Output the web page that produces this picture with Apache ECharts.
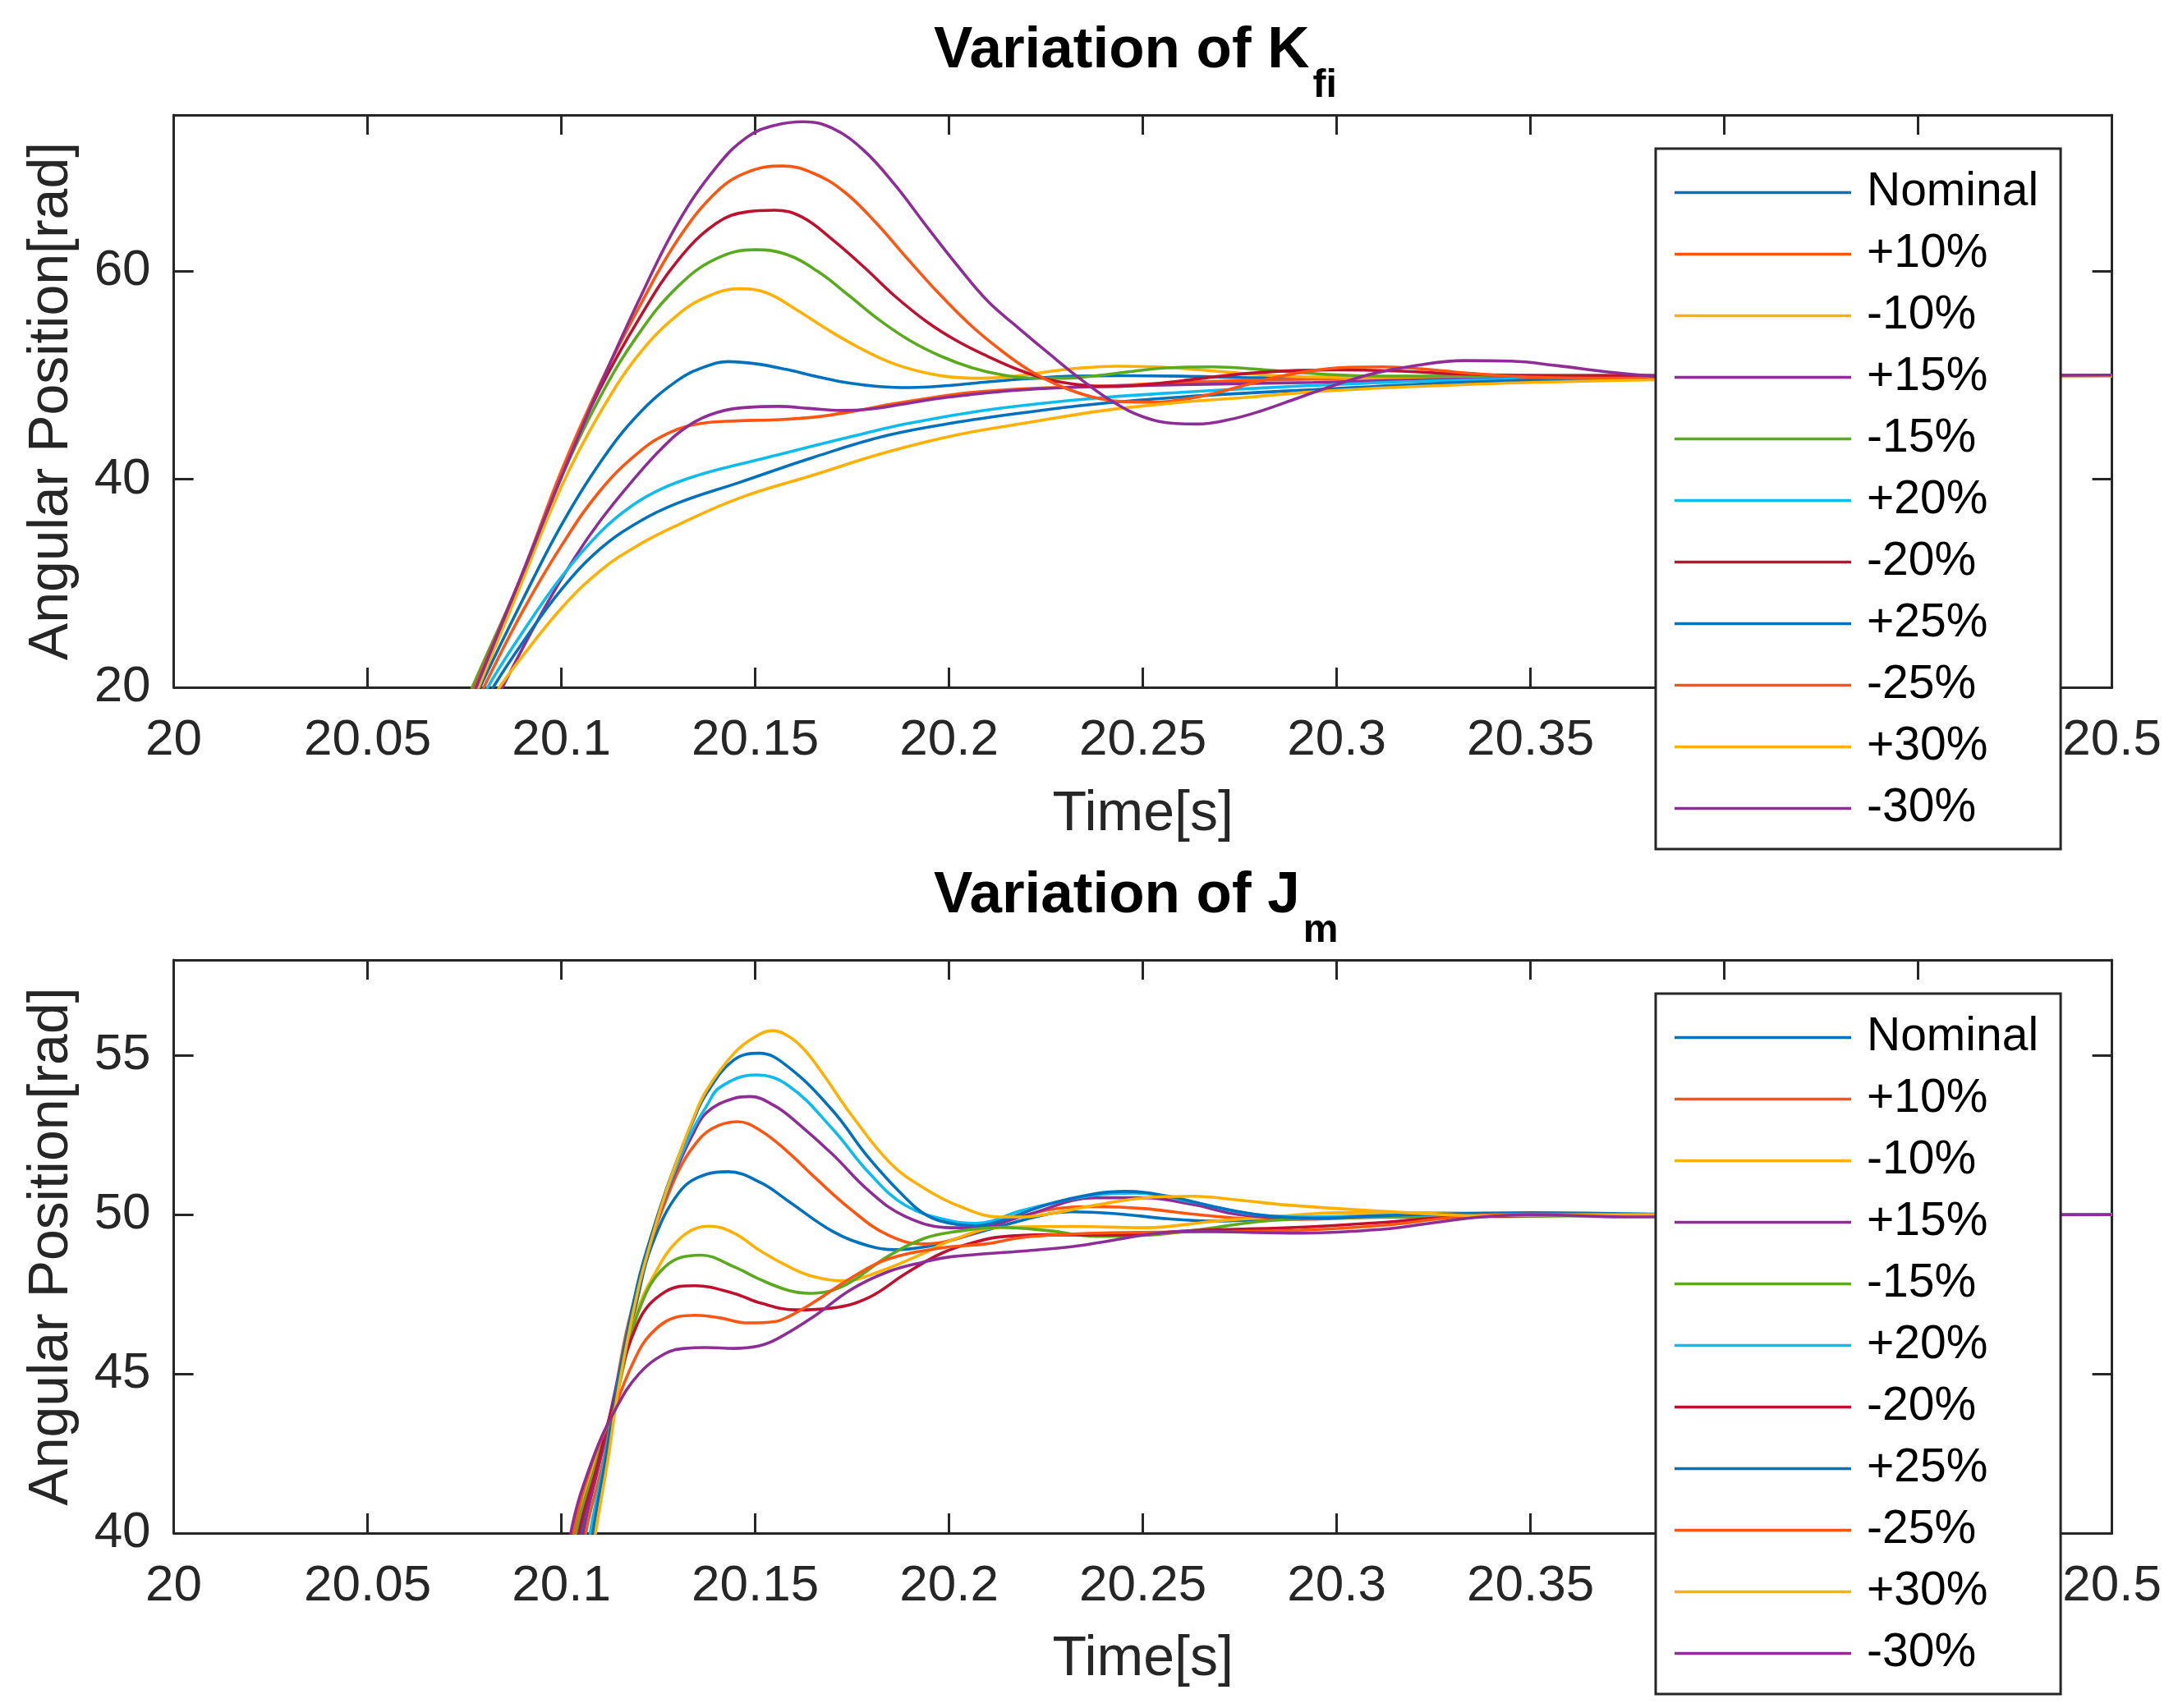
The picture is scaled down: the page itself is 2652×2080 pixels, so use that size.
<!DOCTYPE html>
<html>
<head>
<meta charset="utf-8">
<script src="https://cdn.jsdelivr.net/npm/echarts@6/dist/echarts.min.js"></script>
<style>
html,body{margin:0;padding:0;background:#fff;}
#chart{width:2652px;height:2080px;}
</style>
</head>
<body>
<div id="chart"></div>
<script>
// ---------- data ----------
const seriesNames = ['Nominal','+10%','-10%','+15%','-15%','+20%','-20%','+25%','-25%','+30%','-30%'];
const xTicks = [20, 20.05, 20.1, 20.15, 20.2, 20.25, 20.3, 20.35, 20.4, 20.45, 20.5];
const kfiYTicks = [20, 40, 60];
const jmYTicks = [40, 45, 50, 55];

// Variation of K_fi  ([time s, angular position rad])
const kfiNominal = [[20.075,16.6],[20.079,20],[20.09,28.4],[20.1,35.6],[20.11,41.6],[20.12,46.3],[20.13,49.5],[20.137,50.8],[20.143,51.3],[20.15,51.1],[20.158,50.55],[20.166,49.85],[20.174,49.25],[20.182,48.9],[20.19,48.8],[20.2,49.0],[20.21,49.35],[20.22,49.65],[20.232,49.9],[20.245,49.95],[20.26,49.9],[20.28,49.75],[20.3,49.8],[20.35,49.9],[20.4,49.95],[20.5,50]];
const kfiP10 = [[20.076,16.6],[20.080,20],[20.09,27.3],[20.1,33.6],[20.11,38.9],[20.12,42.6],[20.128,44.5],[20.136,45.35],[20.145,45.6],[20.155,45.7],[20.165,45.95],[20.175,46.5],[20.185,47.2],[20.195,47.8],[20.205,48.3],[20.22,48.7],[20.24,48.95],[20.26,49.3],[20.29,49.6],[20.33,49.8],[20.4,49.9],[20.5,50]];
const kfiM10 = [[20.0746,16.5],[20.0786,20],[20.09,30.3],[20.1,39.3],[20.11,46.4],[20.12,52.0],[20.13,55.8],[20.138,57.6],[20.146,58.3],[20.153,57.9],[20.161,56.2],[20.169,54.3],[20.177,52.6],[20.185,51.2],[20.193,50.3],[20.201,49.8],[20.209,49.7],[20.217,49.9],[20.225,50.3],[20.233,50.65],[20.243,50.85],[20.253,50.8],[20.265,50.5],[20.278,50.1],[20.29,49.85],[20.31,49.75],[20.35,49.8],[20.4,49.9],[20.5,50]];
const kfiP15 = [[20.081,16.8],[20.0848,20],[20.095,27.2],[20.1035,32.5],[20.11,36.0],[20.118,39.7],[20.126,43.0],[20.133,45.2],[20.14,46.4],[20.148,46.9],[20.156,47.0],[20.164,46.8],[20.172,46.6],[20.18,46.75],[20.188,47.2],[20.196,47.7],[20.205,48.1],[20.216,48.5],[20.23,48.8],[20.25,49.0],[20.27,49.15],[20.294,49.3],[20.33,49.6],[20.4,49.9],[20.5,50]];
const kfiM15 = [[20.073,16.4],[20.077,20],[20.09,30.9],[20.1,40.2],[20.11,47.9],[20.12,54.0],[20.13,58.5],[20.14,61.2],[20.15,62.05],[20.158,61.6],[20.166,60.0],[20.174,57.7],[20.182,55.3],[20.19,53.3],[20.198,51.8],[20.206,50.7],[20.214,50.0],[20.222,49.7],[20.23,49.7],[20.238,49.95],[20.246,50.3],[20.256,50.7],[20.268,50.8],[20.28,50.55],[20.292,50.2],[20.305,49.95],[20.32,49.9],[20.35,50.0],[20.5,50]];
const kfiP20 = [[20.077,16.8],[20.081,20],[20.09,25.3],[20.1,30.6],[20.11,34.9],[20.118,37.4],[20.126,39.1],[20.135,40.35],[20.146,41.45],[20.156,42.35],[20.166,43.3],[20.176,44.2],[20.186,45.1],[20.196,45.8],[20.208,46.55],[20.222,47.2],[20.24,47.85],[20.26,48.35],[20.28,48.75],[20.3,49.1],[20.325,49.45],[20.35,49.65],[20.4,49.85],[20.5,50]];
const kfiM20 = [[20.0737,16.4],[20.0777,20],[20.09,31.0],[20.1,40.6],[20.11,48.7],[20.12,55.4],[20.13,61.0],[20.14,64.6],[20.148,65.7],[20.155,65.85],[20.162,65.2],[20.17,63.0],[20.178,60.4],[20.186,57.6],[20.194,55.2],[20.202,53.3],[20.21,51.8],[20.218,50.5],[20.226,49.55],[20.234,49.05],[20.242,48.9],[20.25,49.05],[20.26,49.45],[20.27,49.9],[20.28,50.25],[20.29,50.45],[20.3,50.5],[20.315,50.4],[20.333,50.1],[20.36,49.9],[20.4,49.95],[20.5,50]];
const kfiP25 = [[20.078,17.0],[20.0824,20],[20.09,24.3],[20.1,29.4],[20.11,33.3],[20.12,35.9],[20.13,37.7],[20.146,39.7],[20.165,42.1],[20.184,44.2],[20.2026,45.5],[20.2215,46.5],[20.24,47.3],[20.26,47.9],[20.278,48.3],[20.294,48.6],[20.32,49.1],[20.35,49.5],[20.4,49.8],[20.5,50]];
const kfiM25 = [[20.0737,16.4],[20.0777,20],[20.09,31.0],[20.1,40.8],[20.11,49.2],[20.12,56.5],[20.13,63.0],[20.14,67.6],[20.148,69.5],[20.157,70.1],[20.165,69.4],[20.173,67.6],[20.181,64.7],[20.189,61.3],[20.197,58.0],[20.205,55.0],[20.213,52.5],[20.221,50.4],[20.229,48.9],[20.237,47.9],[20.245,47.45],[20.253,47.4],[20.261,47.7],[20.269,48.3],[20.277,49.1],[20.285,49.85],[20.294,50.45],[20.303,50.75],[20.312,50.8],[20.322,50.6],[20.335,50.15],[20.35,49.8],[20.37,49.7],[20.4,49.85],[20.5,50]];
const kfiP30 = [[20.080,17.8],[20.084,20],[20.09,23.0],[20.1,27.6],[20.11,31.2],[20.12,33.7],[20.13,35.6],[20.146,38.2],[20.165,40.4],[20.184,42.6],[20.2026,44.3],[20.2215,45.5],[20.24,46.6],[20.26,47.4],[20.278,47.9],[20.294,48.4],[20.32,48.9],[20.35,49.3],[20.4,49.65],[20.5,49.9]];
const kfiM30 = [[20.074,16.3],[20.078,20],[20.09,31.0],[20.1,40.2],[20.11,49.0],[20.12,57.2],[20.13,64.6],[20.14,70.0],[20.148,72.9],[20.155,74.0],[20.1625,74.35],[20.17,73.7],[20.178,71.6],[20.186,68.3],[20.194,64.4],[20.202,60.6],[20.21,57.1],[20.218,54.5],[20.226,52.0],[20.234,49.6],[20.242,47.5],[20.25,46.0],[20.2585,45.35],[20.264,45.3],[20.272,45.7],[20.28,46.5],[20.29,47.8],[20.3,49.1],[20.31,50.2],[20.32,50.9],[20.333,51.4],[20.345,51.35],[20.357,50.9],[20.37,50.3],[20.382,49.9],[20.4,49.65],[20.43,49.7],[20.46,49.9],[20.5,50]];

// Variation of J_m
const jmNominal = [[20.1009,36.5],[20.1049,40],[20.1095,42.1],[20.1145,44.5],[20.1197,47.4],[20.1232,49.0],[20.1303,50.69],[20.1374,51.27],[20.143,51.35],[20.1515,51.0],[20.1586,50.42],[20.1699,49.48],[20.1793,49.02],[20.186,48.9],[20.1954,49.02],[20.2007,49.2],[20.2131,49.63],[20.2255,50.02],[20.2317,50.09],[20.2441,50.02],[20.2566,49.87],[20.269,49.8],[20.2877,49.89],[20.3125,49.96],[20.35,50.0],[20.5,50]];
const jmP10 = [[20.1023,36.5],[20.1063,40],[20.111,42.4],[20.1162,46.0],[20.1197,47.74],[20.1232,49.2],[20.1268,50.4],[20.1303,51.4],[20.1338,52.1],[20.1388,52.7],[20.1455,52.92],[20.1515,52.63],[20.1586,51.95],[20.1651,51.2],[20.1746,50.17],[20.1841,49.37],[20.1935,49.08],[20.2007,49.2],[20.2131,49.72],[20.2255,50.15],[20.2379,50.25],[20.2504,50.19],[20.2628,50.02],[20.275,49.89],[20.2877,49.85],[20.3125,49.93],[20.35,50.0],[20.5,50]];
const jmM10 = [[20.0995,36.5],[20.1035,40],[20.109,42.3],[20.114,44.3],[20.1197,47.0],[20.1232,47.95],[20.1303,49.22],[20.1381,49.64],[20.1444,49.43],[20.1515,48.85],[20.1586,48.37],[20.1651,48.05],[20.1727,47.92],[20.1822,48.22],[20.1935,48.79],[20.2007,49.2],[20.2131,49.6],[20.2317,49.63],[20.2504,49.59],[20.269,49.8],[20.2877,49.97],[20.3001,50.06],[20.325,50.06],[20.35,50.0],[20.4,50],[20.5,50]];
const jmP15 = [[20.1016,36.5],[20.1056,40],[20.11,42.3],[20.1148,45.0],[20.1197,47.74],[20.1232,49.25],[20.1268,50.55],[20.1303,51.6],[20.1338,52.5],[20.1374,53.2],[20.1444,53.65],[20.1487,53.71],[20.155,53.42],[20.1604,52.93],[20.1699,51.9],[20.1793,50.75],[20.1888,49.94],[20.2007,49.59],[20.2069,49.59],[20.2193,49.97],[20.2379,50.53],[20.2504,50.53],[20.2628,50.32],[20.275,50.0],[20.29,49.9],[20.315,49.95],[20.35,50.0],[20.5,50]];
const jmM15 = [[20.0998,36.5],[20.1038,40],[20.109,42.2],[20.114,44.2],[20.1197,46.9],[20.1268,48.37],[20.136,48.73],[20.1444,48.37],[20.1515,47.95],[20.1586,47.62],[20.1637,47.53],[20.1727,47.76],[20.1841,48.68],[20.1935,49.25],[20.2007,49.45],[20.2131,49.6],[20.2255,49.5],[20.2379,49.32],[20.2504,49.35],[20.2628,49.5],[20.2815,49.8],[20.3,49.9],[20.35,49.95],[20.4,50],[20.5,50]];
const jmP20 = [[20.1034,36.5],[20.1074,40],[20.111,42.2],[20.1148,44.9],[20.1197,47.8],[20.1232,49.3],[20.1268,50.6],[20.1303,51.7],[20.1338,52.65],[20.1374,53.4],[20.1409,54.0],[20.1501,54.39],[20.1586,54.05],[20.1699,52.7],[20.1793,51.32],[20.1888,50.29],[20.2007,49.8],[20.2069,49.73],[20.2193,50.15],[20.2379,50.62],[20.2479,50.68],[20.2628,50.4],[20.278,50.02],[20.294,49.93],[20.3125,49.97],[20.35,50.0],[20.5,50]];
const jmM20 = [[20.1005,36.5],[20.1045,40],[20.109,42.0],[20.1127,43.75],[20.1197,46.6],[20.1268,47.58],[20.1345,47.77],[20.1444,47.53],[20.1515,47.22],[20.1604,47.01],[20.1699,47.07],[20.1793,47.4],[20.1888,48.15],[20.1983,48.8],[20.207,49.15],[20.2131,49.3],[20.2255,49.37],[20.2441,49.36],[20.2628,49.5],[20.2877,49.59],[20.3125,49.76],[20.325,49.89],[20.35,49.97],[20.4,50],[20.5,50]];
const jmP25 = [[20.1041,36.5],[20.1081,40],[20.1115,42.4],[20.1148,44.9],[20.1197,47.85],[20.1232,49.35],[20.1268,50.7],[20.1303,51.85],[20.1338,52.9],[20.1374,53.8],[20.1444,54.85],[20.1511,55.07],[20.1586,54.63],[20.1699,53.28],[20.1793,51.78],[20.1888,50.52],[20.1944,49.97],[20.2007,49.72],[20.2069,49.65],[20.2131,49.8],[20.2255,50.32],[20.2379,50.66],[20.2454,50.73],[20.2566,50.58],[20.2691,50.23],[20.2815,49.97],[20.294,49.89],[20.3125,49.97],[20.35,50.06],[20.4,50.0],[20.5,50]];
const jmM25 = [[20.0995,36.5],[20.1031,40],[20.1085,42.4],[20.1127,43.6],[20.1183,45.3],[20.1232,46.27],[20.1303,46.8],[20.1345,46.84],[20.1409,46.76],[20.148,46.6],[20.155,46.64],[20.1586,46.8],[20.1651,47.25],[20.1746,48.0],[20.1841,48.6],[20.1983,48.96],[20.2094,49.08],[20.2193,49.29],[20.2379,49.42],[20.2628,49.46],[20.2877,49.5],[20.3125,49.67],[20.3312,49.93],[20.35,50.02],[20.4,50.0],[20.5,50]];
const jmP30 = [[20.1048,36.5],[20.1088,40],[20.112,42.3],[20.1148,44.6],[20.1197,47.6],[20.1232,49.2],[20.1268,50.65],[20.1303,51.85],[20.1338,52.95],[20.1374,53.9],[20.1444,55.05],[20.1495,55.55],[20.1545,55.78],[20.1586,55.6],[20.1625,55.2],[20.167,54.5],[20.175,53.1],[20.185,51.6],[20.194,50.8],[20.203,50.25],[20.213,49.93],[20.2193,49.93],[20.2255,50.02],[20.2379,50.3],[20.2504,50.53],[20.2628,50.58],[20.2752,50.45],[20.2877,50.3],[20.3125,50.1],[20.3374,49.97],[20.382,50.0],[20.5,50]];
const jmM30 = [[20.0985,36.5],[20.1024,40],[20.108,42.3],[20.114,43.9],[20.12,45.0],[20.1268,45.64],[20.1317,45.8],[20.1374,45.83],[20.1444,45.8],[20.151,45.88],[20.1557,46.1],[20.1651,46.8],[20.1746,47.64],[20.1841,48.2],[20.193,48.5],[20.2007,48.68],[20.2193,48.86],[20.232,49.0],[20.2425,49.2],[20.2525,49.4],[20.2628,49.48],[20.2877,49.42],[20.3125,49.55],[20.325,49.75],[20.3374,49.93],[20.35,50.0],[20.3746,49.93],[20.42,49.98],[20.5,50]];

const kfiData = [kfiNominal,kfiP10,kfiM10,kfiP15,kfiM15,kfiP20,kfiM20,kfiP25,kfiM25,kfiP30,kfiM30];
const jmData = [jmNominal,jmP10,jmM10,jmP15,jmM15,jmP20,jmM20,jmP25,jmM25,jmP30,jmM30];

// ---------- styles ----------
const palette = ['#0072BD','#FF5511','#FFB000','#8E2D96','#5AAA1E','#0EBBEE','#C0102F','#0072BD','#FF5511','#FFB000','#8E2D96'];
const FONT = '"Liberation Sans", Arial, Helvetica, sans-serif';
const AX = '#262626';

const grids = [
  {left: 211.6, top: 140, width: 2360, height: 697},
  {left: 211.6, top: 1169, width: 2360, height: 698}
];
const yRanges = [
  {min: 20, max: 75, interval: 20, ticks: kfiYTicks},
  {min: 40, max: 58, interval: 5, ticks: jmYTicks}
];

function fmtX(v){
  const r = Math.round(v*100)/100;
  return xTicks.some(t => Math.abs(t - r) < 1e-9) ? String(r) : '';
}

const xAxes = [], yAxes = [];
grids.forEach((g, i) => {
  const common = {
    type: 'value', gridIndex: i, min: 20, max: 20.5, interval: 0.05,
    axisLine: {show: true, onZero: false, lineStyle: {color: AX, width: 3}},
    axisTick: {show: true, inside: true, length: 24, lineStyle: {color: AX, width: 3}},
    splitLine: {show: false}
  };
  xAxes.push(Object.assign({}, common, {
    position: 'bottom',
    axisLabel: {show: true, fontSize: 62, fontFamily: FONT, color: AX, margin: 34, formatter: fmtX}
  }));
  xAxes.push(Object.assign({}, common, {position: 'top', axisLabel: {show: false}}));
  const yr = yRanges[i];
  const ycommon = {
    type: 'value', gridIndex: i, min: yr.min, max: yr.max, interval: yr.interval,
    axisLine: {show: true, onZero: false, lineStyle: {color: AX, width: 3}},
    axisTick: {show: true, inside: true, length: 24, lineStyle: {color: AX, width: 3}},
    splitLine: {show: false}
  };
  yAxes.push(Object.assign({}, ycommon, {
    position: 'left',
    name: 'Angular Position[rad]', nameLocation: 'middle', nameGap: 114,
    nameTextStyle: {fontSize: 68, fontFamily: FONT, color: AX},
    axisLabel: {show: true, fontSize: 62, fontFamily: FONT, color: AX, margin: 28,
      formatter: v => yr.ticks.some(t => Math.abs(t - v) < 1e-9) ? String(v) : ''}
  }));
  yAxes.push(Object.assign({}, ycommon, {position: 'right', axisLabel: {show: false}}));
});

const series = [];
[kfiData, jmData].forEach((set, gi) => {
  set.forEach((d, k) => {
    series.push({
      type: 'line', name: seriesNames[k], data: d,
      xAxisIndex: gi*2, yAxisIndex: gi*2,
      showSymbol: false, symbol: 'none', smooth: 0.4, clip: true,
      color: palette[k],
      itemStyle: {color: palette[k]},
      lineStyle: {color: palette[k], width: 3.6},
      emphasis: {disabled: true},
      animation: false
    });
  });
});

function legendAt(top){
  return {
    orient: 'vertical', left: 2016, top: top,
    padding: [25, 27, 21, 23],
    itemWidth: 215, itemHeight: 3.5, itemGap: 18,
    icon: 'rect',
    backgroundColor: '#ffffff', borderColor: AX, borderWidth: 3,
    textStyle: {fontSize: 57, fontFamily: FONT, color: '#000', lineHeight: 56, padding: [0,0,0,14]},
    data: seriesNames,
    selectedMode: false
  };
}

function titleAt(main, sub, top){
  return {
    text: '{a|' + main + '}{b|' + sub + '}',
    left: 1137, top: top, padding: 0,
    textStyle: {
      rich: {
        a: {fontSize: 71, fontWeight: 'bold', fontFamily: FONT, color: '#000', lineHeight: 71, verticalAlign: 'top'},
        b: {fontSize: 48, fontWeight: 'bold', fontFamily: FONT, color: '#000', lineHeight: 48, verticalAlign: 'top', padding: [54, 0, 0, 4]}
      }
    }
  };
}

// x-axis titles, centred under each plot
function xName(centerY){
  return {
    type: 'text', x: 211.6 + 2360/2, y: centerY, z: 10,
    style: {
      text: 'Time[s]', fill: AX, font: '68px "Liberation Sans", Arial, sans-serif',
      align: 'center', verticalAlign: 'middle', textAlign: 'center', textVerticalAlign: 'middle'
    }
  };
}

const option = {
  backgroundColor: '#ffffff',
  animation: false,
  title: [titleAt('Variation of K', 'fi', 27), titleAt('Variation of J', 'm', 1056)],
  legend: [legendAt(181), legendAt(1210)],
  grid: grids,
  xAxis: xAxes,
  yAxis: yAxes,
  graphic: [xName(992), xName(2021)],
  series: series
};

const chart = echarts.init(document.getElementById('chart'), null, {renderer: 'canvas'});
chart.setOption(option);
</script>
</body>
</html>
